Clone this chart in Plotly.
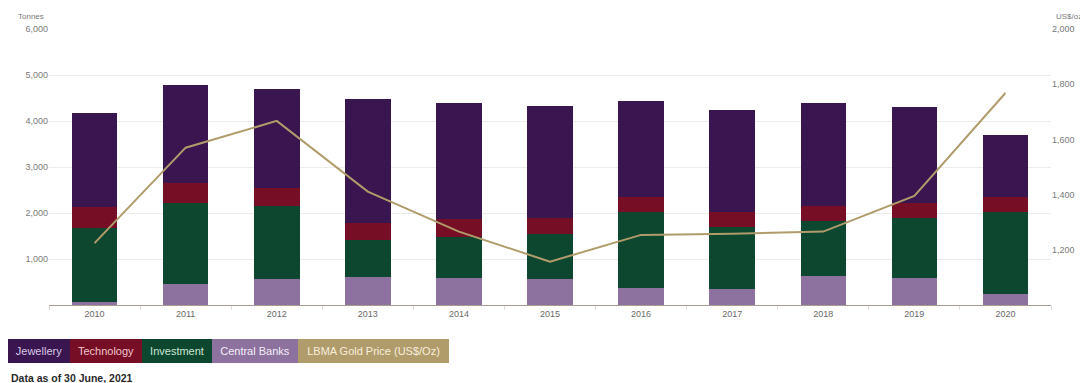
import plotly.graph_objects as go

years = ["2010", "2011", "2012", "2013", "2014", "2015", "2016", "2017", "2018", "2019", "2020"]
central_banks = [72, 457, 558, 616, 580, 558, 362, 348, 637, 580, 232]
investment = [1595, 1767, 1594, 797, 905, 985, 1653, 1340, 1189, 1305, 1783]
technology = [470, 421, 399, 362, 378, 355, 326, 341, 333, 325, 326]
jewellery = [2043, 2138, 2137, 2703, 2535, 2435, 2101, 2210, 2239, 2101, 1355]
gold_price = [1224, 1570, 1667, 1411, 1266, 1157, 1254, 1258, 1266, 1395, 1768]

left_ticks = [1000, 2000, 3000, 4000, 5000, 6000]
right_ticks = [1200, 1400, 1600, 1800, 2000]

C_JEW = "#3a1650"
C_TECH = "#760f25"
C_INV = "#0e4730"
C_CB = "#8d719f"
C_GOLD = "#b09c6b"

# page body has an 8px default margin: work in reference pixels, shift by 8
OFF = 8
W, H = 1088 - OFF, 383 - OFF
L, R, T, B = 49, 1051, 29, 305  # plot area in reference pixels

fig = go.Figure()
for name, vals, col in [("Central Banks", central_banks, C_CB),
                        ("Investment", investment, C_INV),
                        ("Technology", technology, C_TECH),
                        ("Jewellery", jewellery, C_JEW)]:
    fig.add_trace(go.Bar(x=years, y=vals, name=name, marker=dict(color=col, line=dict(width=0))))

fig.add_trace(go.Scatter(x=years, y=gold_price, name="LBMA Gold Price (US$/Oz)", mode="lines",
                         line=dict(color=C_GOLD, width=2), yaxis="y2"))

tickfont = dict(family="Liberation Sans, Arial, sans-serif", size=9, color="#7a7a7a")

fig.update_layout(
    width=W, height=H,
    margin=dict(l=L - OFF, r=(W + OFF) - R, t=T - OFF, b=(H + OFF) - B, pad=0),
    barmode="stack", bargap=0.5,
    paper_bgcolor="white", plot_bgcolor="white",
    showlegend=False,
    font=dict(family="Liberation Sans, Arial, sans-serif"),
    xaxis=dict(type="category", tickfont=dict(family="Liberation Sans, Arial, sans-serif", size=9, color="#6a6a6a"),
               showline=True, linecolor="#a89c90", linewidth=1,
               ticks="outside", tickson="boundaries", ticklen=4, tickcolor="#dddddd",
               showgrid=False, range=[-0.5, 10.5]),
    yaxis=dict(range=[0, 6000], tickvals=left_ticks, tickformat=",", tickfont=tickfont,
               showgrid=True, gridcolor="#ececec", gridwidth=1, zeroline=False, ticks="", ticklen=0),
    yaxis2=dict(range=[1000, 2000], tickvals=right_ticks, tickformat=",", tickfont=tickfont,
                overlaying="y", side="right", showgrid=False, zeroline=False),
)

def px(x):
    return (x - L) / (R - L)

def py(y):
    return (B - y) / (B - T)

anns = [
    dict(text="Tonnes", x=px(46), y=py(16), xanchor="right", yanchor="middle",
         font=dict(size=8, color="#7a7a7a")),
    dict(text="US$/oz", x=px(1054), y=py(16), xanchor="left", yanchor="middle",
         font=dict(size=8, color="#7a7a7a")),
    dict(text="<b>Data as of 30 June, 2021</b>", x=px(9), y=py(378), xanchor="left", yanchor="middle",
         font=dict(size=10.5, color="#2a2a2a")),
]

legend_items = [
    ("Jewellery", C_JEW, "#d9c8e6", 8, 70),
    ("Technology", C_TECH, "#f0c4cc", 70, 142),
    ("Investment", C_INV, "#c8e6d4", 142, 212),
    ("Central Banks", C_CB, "#f4eef8", 212, 298),
    ("LBMA Gold Price (US$/Oz)", C_GOLD, "#f6efdc", 298, 449),
]
for text, bg, fg, x0, x1 in legend_items:
    anns.append(dict(text=text, x=px(x0), y=py(351), xanchor="left", yanchor="middle",
                     width=x1 - x0, height=24, bgcolor=bg, borderpad=0, borderwidth=0,
                     align="center", valign="middle",
                     font=dict(size=11, color=fg)))

for a in anns:
    a.update(xref="paper", yref="paper", showarrow=False)
fig.update_layout(annotations=anns)

fig.write_html("out.html")
